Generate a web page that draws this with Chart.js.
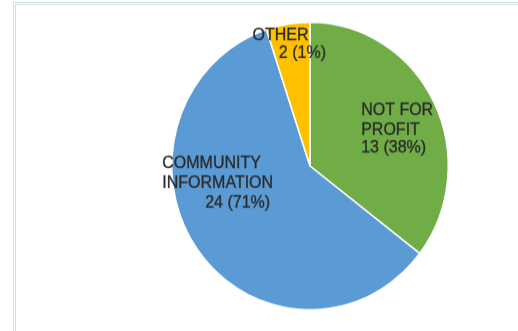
<!DOCTYPE html>
<html>
<head>
<meta charset="utf-8">
<script src="https://cdn.jsdelivr.net/npm/chart.js@4"></script>
<style>
  html, body { margin: 0; padding: 0; background: #fff; }
  #wrap { position: relative; width: 518px; height: 331px; overflow: hidden; }
  #frame {
    position: absolute; left: 13px; top: 2px; width: 620px; height: 420px;
    border-left: 3px double #d2dede; border-top: 3px double #d2dede;
  }
  #chart { position: absolute; left: 0; top: 0; transform: scaleY(1.04); transform-origin: 0 166px; }
</style>
</head>
<body>
<div id="wrap">
  <div id="frame"></div>
  <canvas id="chart" width="518" height="331"></canvas>
</div>
<script>
// categories (label lines as shown), counts and percentages printed in the labels
const categories = [['NOT FOR', 'PROFIT'], ['COMMUNITY', 'INFORMATION'], ['OTHER']];
const counts = [13, 24, 2];
const percentLabels = ['38%', '71%', '1%'];
// slice sizes as drawn in the picture (share of the circle, %)
const sliceShares = [35.4, 59.5, 5.1];
const colors = ['#70AD47', '#5B9BD5', '#FFC000'];

// where each label line sits relative to the slice's tooltip point
const lineOffsets = [
    [{ dx: -10.8, dy: -18, align: 'left' }, { dx: -10.8, dy: 0.3, align: 'left' }, { dx: -10.8, dy: 17.9, align: 'left' }],
    [{ dx: -91.4, dy: -38.2, align: 'left' }, { dx: -91.4, dy: -18.9, align: 'left' }, { dx: 16.4, dy: -0.4, align: 'right' }],
    [{ dx: -46.4, dy: -52.8, align: 'left' }, { dx: -20.1, dy: -36, align: 'left' }],
];

const sliceLabels = {
    id: 'sliceLabels',
    afterDatasetsDraw(chart) {
        const ctx = chart.ctx;
        const meta = chart.getDatasetMeta(0);
        ctx.save();
        ctx.font = '16px "Liberation Sans", Arial, sans-serif';
        ctx.fillStyle = '#2a2a2a';
        ctx.strokeStyle = 'rgba(42, 42, 42, 0.6)';
        ctx.lineWidth = 0.5;
        ctx.textBaseline = 'alphabetic';
        meta.data.forEach((arc, i) => {
            const p = arc.tooltipPosition();
            const lines = categories[i].concat([counts[i] + ' (' + percentLabels[i] + ')']);
            lines.forEach((txt, j) => {
                const o = lineOffsets[i][j];
                ctx.textAlign = o.align;
                ctx.fillText(txt, p.x + o.dx, p.y + o.dy);
                ctx.strokeText(txt, p.x + o.dx, p.y + o.dy);
            });
        });
        ctx.restore();
    },
};

new Chart(document.getElementById('chart'), {
    type: 'pie',
    data: {
        labels: categories.map(c => c.join(' ')),
        datasets: [
            {
                data: sliceShares,
                backgroundColor: colors,
                borderColor: '#ffffff',
                borderWidth: 1.5,
            },
        ],
    },
    options: {
        responsive: false,
        animation: false,
        devicePixelRatio: 1,
        layout: { padding: { left: 171, right: 69, top: 27, bottom: 26 } },
        plugins: {
            legend: { display: false },
            tooltip: { enabled: false },
        },
    },
    plugins: [sliceLabels],
});
</script>
</body>
</html>
